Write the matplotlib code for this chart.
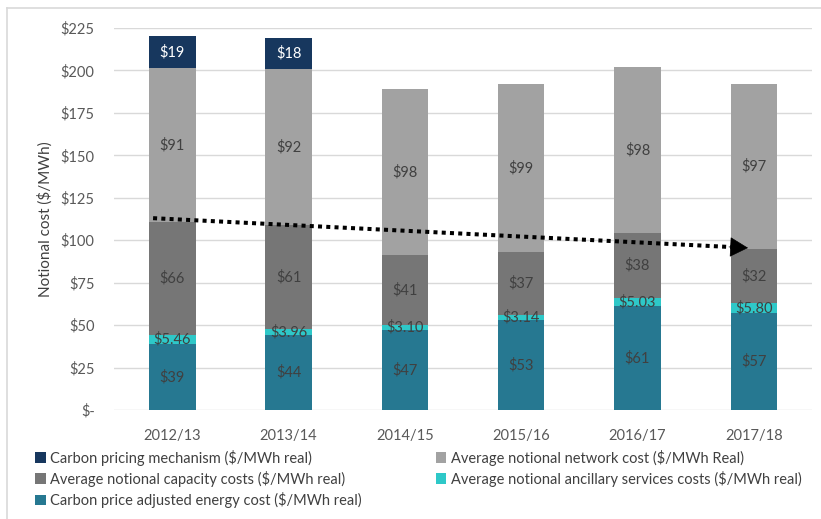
import matplotlib
matplotlib.use("Agg")
import matplotlib.pyplot as plt
from matplotlib.lines import Line2D

years = ["2012/13", "2013/14", "2014/15", "2015/16", "2016/17", "2017/18"]
energy = [39, 44, 47, 53, 61, 57]
ancillary = [5.46, 3.96, 3.10, 3.14, 5.03, 5.80]
capacity = [66, 61, 41, 37, 38, 32]
network = [91, 92, 98, 99, 98, 97]
carbon = [19, 18, 0, 0, 0, 0]

energy_lbl = ["$39", "$44", "$47", "$53", "$61", "$57"]
ancillary_lbl = ["$5.46", "$3.96", "$3.10", "$3.14", "$5.03", "$5.80"]
capacity_lbl = ["$66", "$61", "$41", "$37", "$38", "$32"]
network_lbl = ["$91", "$92", "$98", "$99", "$98", "$97"]
carbon_lbl = ["$19", "$18", "", "", "", ""]

yticks = [0, 25, 50, 75, 100, 125, 150, 175, 200, 225]
ytick_labels = ["$-", "$25", "$50", "$75", "$100", "$125", "$150", "$175", "$200", "$225"]

trend_start = (-0.165, 113.0)
trend_end = (4.95, 95.5)

plt.rcParams['font.family'] = ['Lato', 'DejaVu Sans']

fig = plt.figure(figsize=(8.21, 5.19), dpi=100)
ax = fig.add_axes([0.139, 0.21, 0.850, 0.736])

series = [
    ("Carbon price adjusted energy cost ($/MWh real)", energy, energy_lbl, "#267891", "#404040"),
    ("Average notional ancillary services costs ($/MWh real)", ancillary, ancillary_lbl, "#2ec8c8", "#404040"),
    ("Average notional capacity costs ($/MWh real)", capacity, capacity_lbl, "#767676", "#404040"),
    ("Average notional network cost ($/MWh Real)", network, network_lbl, "#a2a2a2", "#404040"),
    ("Carbon pricing mechanism ($/MWh real)", carbon, carbon_lbl, "#17375e", "white"),
]

x = list(range(len(years)))
bottom = [0.0] * len(years)
handles = {}
for name, vals, lbls, color, tcol in series:
    bars = ax.bar(x, vals, 0.40, bottom=bottom, color=color, label=name, zorder=3)
    handles[name] = bars
    for i, (v, l) in enumerate(zip(vals, lbls)):
        if l:
            ax.text(i, bottom[i] + v / 2, l, ha="center", va="center",
                    fontsize=10.5, color=tcol, zorder=5)
    bottom = [b + v for b, v in zip(bottom, vals)]

# trend arrow: dotted shaft + filled head
x0, y0 = trend_start
x1, y1 = trend_end
frac = 0.972
xb, yb = x0 + (x1 - x0) * frac, y0 + (y1 - y0) * frac
ax.plot([x0, xb], [y0, yb], color="black", lw=2.9, linestyle=(0, (1, 1.05)),
        dash_capstyle="butt", zorder=6)
ax.annotate("", xy=trend_end, xytext=(xb - 0.02, yb + (y0 - y1) * 0.004),
            arrowprops=dict(arrowstyle="-|>,head_length=0.6,head_width=0.33",
                            lw=0.5, color="black", mutation_scale=20,
                            shrinkA=0, shrinkB=0),
            zorder=6)

ax.set_xlim(-0.5, 5.5)
ax.set_ylim(0, 225)
ax.set_yticks(yticks)
ax.set_yticklabels(ytick_labels)
ax.set_xticks(x)
ax.set_xticklabels(years)
ax.tick_params(length=0, labelsize=10.5, colors="#595959")
ax.tick_params(axis="x", pad=14)
ax.tick_params(axis="y", pad=14)
ax.yaxis.grid(True, color="#d9d9d9", lw=1, zorder=0)
for s in ax.spines.values():
    s.set_visible(False)
ax.set_ylabel("Notional cost ($/MWh)", fontsize=11, color="#404040", labelpad=6)

order = ["Carbon pricing mechanism ($/MWh real)",
         "Average notional capacity costs ($/MWh real)",
         "Carbon price adjusted energy cost ($/MWh real)",
         "Average notional network cost ($/MWh Real)",
         "Average notional ancillary services costs ($/MWh real)"]
leg = fig.legend([handles[n] for n in order], order, ncol=2, loc="upper left",
                 bbox_to_anchor=(0.036, 0.145), frameon=False, fontsize=10.5,
                 handlelength=0.7, handleheight=0.7, handletextpad=0.3,
                 columnspacing=5.1, labelspacing=0.35, borderaxespad=0)
for t in leg.get_texts():
    t.set_color("#404040")

fig.lines.append(Line2D([0.009, 0.009], [0.0, 0.985], transform=fig.transFigure,
                        color="#d9d9d9", lw=1.2))
fig.lines.append(Line2D([0.009, 1.0], [0.985, 0.985], transform=fig.transFigure,
                        color="#d9d9d9", lw=1.2))

fig.savefig("out.png", dpi=100)
